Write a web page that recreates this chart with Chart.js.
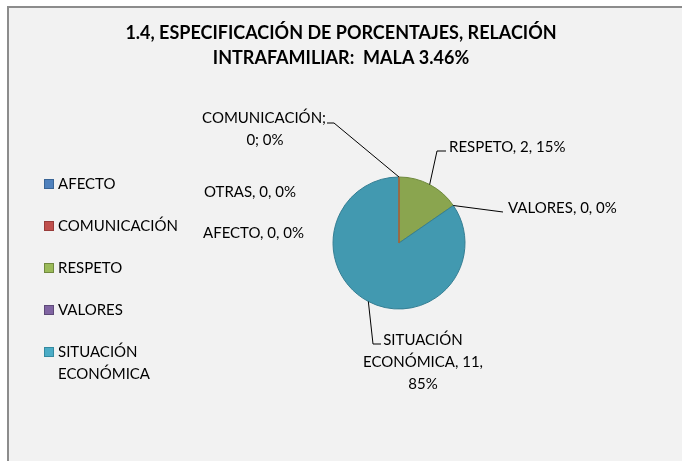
<!DOCTYPE html>
<html>
<head>
<meta charset="utf-8">
<script src="https://cdn.jsdelivr.net/npm/chart.js@4"></script>
<style>
  html, body { margin: 0; padding: 0; background: #fff; }
  #wrap { width: 682px; height: 461px; }
</style>
</head>
<body>
<div id="wrap"><canvas id="pie-chart" width="682" height="461"></canvas></div>
<script>
// Datos del gráfico
const categories = ['AFECTO', 'COMUNICACIÓN', 'RESPETO', 'VALORES', 'SITUACIÓN ECONÓMICA', 'OTRAS'];
const values = [0, 0, 2, 0, 11, 0];
const percents = ['0%', '0%', '15%', '0%', '85%', '0%'];
const legendCategories = ['AFECTO', 'COMUNICACIÓN', 'RESPETO', 'VALORES', 'SITUACIÓN ECONÓMICA'];
const titleLines = ['1.4, ESPECIFICACIÓN DE PORCENTAJES, RELACIÓN', 'INTRAFAMILIAR:  MALA 3.46%'];

const sliceColors = ['#4a7bb7', '#b94b48', '#8aa54f', '#7a5f9c', '#4299b0', '#e0823a'];
const sliceBorders = ['#3b6594', '#a0522d', '#6f8a3d', '#5f4a7c', '#357f94', '#c0602a'];
const legendColors = ['#4f81bd', '#c0504d', '#9bbb59', '#8064a2', '#4bacc6'];
const legendBorders = ['#3a6596', '#983c3a', '#71893f', '#5e4a78', '#348aa0'];

const FONT = '"Lato", "Liberation Sans", sans-serif';

// fondo, marco y título estilo Excel
const backgroundPlugin = {
  id: 'background',
  beforeDraw(chart) {
    const ctx = chart.ctx;
    ctx.save();
    ctx.fillStyle = '#ffffff';
    ctx.fillRect(0, 0, chart.width, chart.height);
    ctx.fillStyle = '#f2f2f2';
    ctx.fillRect(8, 7, chart.width, chart.height);
    ctx.strokeStyle = '#8c8c8c';
    ctx.lineWidth = 2;
    ctx.beginPath();
    ctx.moveTo(8, chart.height);
    ctx.lineTo(8, 7);
    ctx.lineTo(chart.width, 7);
    ctx.stroke();
    // título
    ctx.fillStyle = '#000';
    ctx.font = 'bold 18px ' + FONT;
    ctx.textAlign = 'center';
    ctx.textBaseline = 'middle';
    titleLines.forEach((t, i) => ctx.fillText(t, 341, 33 + i * 25));
    ctx.restore();
  }
};

// leyenda a la izquierda
const legendPlugin = {
  id: 'sideLegend',
  afterDraw(chart) {
    const ctx = chart.ctx;
    ctx.save();
    ctx.font = '15px ' + FONT;
    ctx.textBaseline = 'middle';
    legendCategories.forEach((name, i) => {
      const y = 184 + i * 42;
      ctx.fillStyle = legendColors[i];
      ctx.fillRect(44, y - 5, 10, 10);
      ctx.strokeStyle = legendBorders[i];
      ctx.lineWidth = 1;
      ctx.strokeRect(44.5, y - 4.5, 9, 9);
      ctx.fillStyle = '#000';
      const words = name.split(' ');
      words.forEach((w, j) => ctx.fillText(w, 58, y + j * 22));
    });
    ctx.restore();
  }
};

// etiquetas de datos con líneas guía
const labelLayout = [
  { lines: ['AFECTO, 0, 0%'], x: 203, y: 233, align: 'left', leader: false },
  { lines: ['COMUNICACIÓN;', '0; 0%'], x: 265, y: 118, align: 'center', first: ['right', 326], leader: true, elbow: [334, 123], end: [327, 123] },
  { lines: ['RESPETO, 2, 15%'], x: 449, y: 147, align: 'left', leader: true, elbow: [437, 151], end: [446, 151] },
  { lines: ['VALORES, 0, 0%'], x: 508, y: 208, align: 'left', leader: true, elbow: [503, 212], end: [503, 212] },
  { lines: ['SITUACIÓN', 'ECONÓMICA, 11,', '85%'], x: 423, y: 340, align: 'center', leader: true, elbow: [373, 344], end: [381, 344] },
  { lines: ['OTRAS, 0, 0%'], x: 204, y: 192, align: 'left', leader: false }
];

const labelsPlugin = {
  id: 'pieLabels',
  afterDatasetsDraw(chart) {
    const ctx = chart.ctx;
    const arcs = chart.getDatasetMeta(0).data;
    ctx.save();
    ctx.font = '15px ' + FONT;
    ctx.textBaseline = 'middle';
    ctx.strokeStyle = '#000';
    ctx.lineWidth = 1;
    arcs.forEach((arc, i) => {
      const lay = labelLayout[i];
      const p = arc.getProps(['x', 'y', 'startAngle', 'endAngle', 'outerRadius'], true);
      if (lay.leader) {
        const mid = (p.startAngle + p.endAngle) / 2;
        const sx = p.x + Math.cos(mid) * p.outerRadius;
        const sy = p.y + Math.sin(mid) * p.outerRadius;
        ctx.beginPath();
        ctx.moveTo(sx, sy);
        ctx.lineTo(lay.elbow[0], lay.elbow[1]);
        ctx.lineTo(lay.end[0], lay.end[1]);
        ctx.stroke();
      }
      ctx.fillStyle = '#000';
      lay.lines.forEach((ln, j) => {
        let align = lay.align;
        let x = lay.x;
        if (j === 0 && lay.first) {
          align = lay.first[0];
          x = lay.first[1];
        }
        ctx.textAlign = align;
        ctx.fillText(ln, x, lay.y + j * 22);
      });
    });
    // borde de las porciones con valor 0 (línea a las 12)
    const first = arcs[0].getProps(['x', 'y', 'outerRadius'], true);
    ctx.strokeStyle = '#b5602e';
    ctx.lineWidth = 1.5;
    ctx.beginPath();
    ctx.moveTo(first.x, first.y);
    ctx.lineTo(first.x, first.y - first.outerRadius);
    ctx.stroke();
    ctx.restore();
  }
};

new Chart(document.getElementById('pie-chart'), {
  type: 'pie',
  data: {
    labels: categories,
    datasets: [{
      data: values,
      backgroundColor: sliceColors,
      borderColor: sliceBorders,
      borderWidth: 1,
      radius: 66
    }]
  },
  options: {
    responsive: false,
    animation: false,
    layout: {
      // centro del pastel en (399, 243)
      padding: { left: 216, right: 100, top: 70, bottom: 45 }
    },
    plugins: {
      legend: { display: false },
      tooltip: { enabled: false },
      title: { display: false }
    }
  },
  plugins: [backgroundPlugin, legendPlugin, labelsPlugin]
});
</script>
</body>
</html>
